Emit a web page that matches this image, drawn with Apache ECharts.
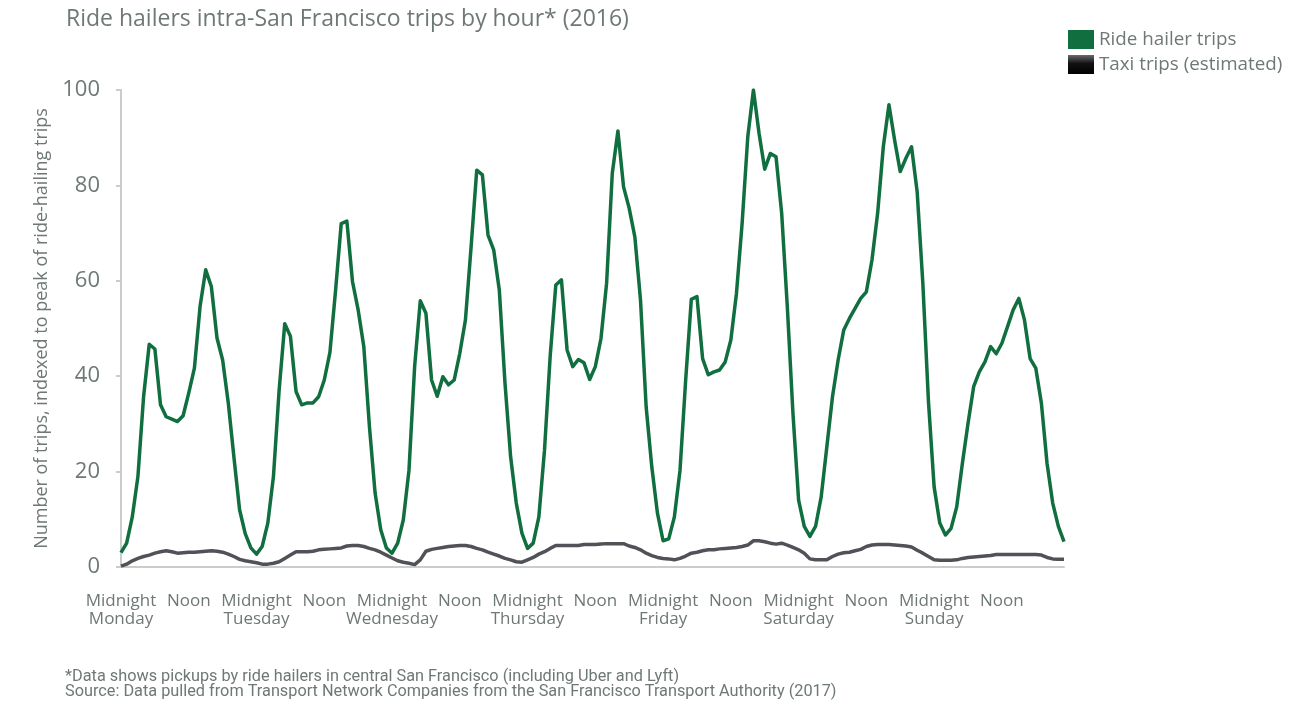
<!DOCTYPE html>
<html>
<head>
<meta charset="utf-8">
<script src="https://cdn.jsdelivr.net/npm/echarts@6/dist/echarts.min.js"></script>
<style>
html,body{margin:0;padding:0;background:#fff;}
#chart{width:1300px;height:723px;}
</style>
</head>
<body>
<div id="chart"></div>
<script>
// Hours 0..167 from Monday midnight
var hours = [];
for (var i = 0; i < 168; i++) hours.push(i);

var tickLabels = [
  'Midnight\nMonday', 'Noon', 'Midnight\nTuesday', 'Noon', 'Midnight\nWednesday', 'Noon',
  'Midnight\nThursday', 'Noon', 'Midnight\nFriday', 'Noon', 'Midnight\nSaturday', 'Noon',
  'Midnight\nSunday', 'Noon'
];

var rideHailer = [
  3, 5, 10.5, 19, 35.7, 46.7, 45.7, 34, 31.5, 31, 30.5, 31.7,
  36.5, 41.7, 54.6, 62.3, 58.8, 48, 43.4, 34.4, 23, 12, 7, 4,
  2.7, 4.3, 9.2, 19, 37, 51, 48.4, 36.8, 34, 34.4, 34.4, 35.7,
  39.2, 45, 58, 72, 72.5, 59.8, 53.9, 46.2, 29.4, 15.5, 7.8, 4,
  2.9, 5, 9.9, 20.3, 42, 55.8, 53.2, 39.2, 35.8, 39.9, 38.2, 39.2,
  44.8, 51.8, 67.1, 83.2, 82.2, 69.6, 66.5, 58, 38.6, 23.1, 13.4, 7.1,
  3.9, 5, 10.5, 24.5, 44.1, 59.1, 60.2, 45.5, 42, 43.5, 42.8, 39.3,
  42, 47.9, 59.5, 82.5, 91.4, 79.7, 75.2, 69.2, 56, 33.6, 21, 11.3,
  5.5, 5.9, 10.5, 20.3, 39.2, 56.1, 56.7, 43.7, 40.3, 40.9, 41.3, 43,
  47.6, 57.4, 72.1, 90.2, 100, 90.9, 83.4, 86.7, 86, 74.2, 54.6, 32.2,
  14, 8.5, 6.4, 8.5, 14.7, 25.2, 35.7, 43.4, 49.7, 52.1, 54.2, 56.3,
  57.7, 64.4, 74.2, 88.1, 96.9, 89.5, 82.9, 85.7, 88.1, 78.6, 59.5, 34.6,
  16.8, 9.2, 6.7, 8.1, 12.6, 21.7, 30.1, 37.8, 40.9, 43, 46.2, 44.7,
  46.9, 50.4, 53.9, 56.3, 51.8, 43.7, 41.7, 34.3, 21.7, 13.4, 8.5, 5.3
];

var taxi = [
  0.2, 0.6, 1.3, 1.8, 2.2, 2.5, 2.9, 3.2, 3.4, 3.2, 2.9, 3.0,
  3.1, 3.1, 3.2, 3.3, 3.4, 3.3, 3.1, 2.7, 2.2, 1.6, 1.3, 1.1,
  0.9, 0.6, 0.6, 0.8, 1.1, 1.8, 2.5, 3.2, 3.2, 3.2, 3.3, 3.6,
  3.7, 3.8, 3.9, 4.0, 4.4, 4.5, 4.5, 4.3, 3.9, 3.6, 3.1, 2.5,
  1.9, 1.3, 1.0, 0.8, 0.5, 1.5, 3.3, 3.7, 3.9, 4.1, 4.3, 4.4,
  4.5, 4.5, 4.3, 3.9, 3.6, 3.1, 2.7, 2.3, 1.8, 1.5, 1.1, 1.0,
  1.5, 2.0, 2.7, 3.2, 3.9, 4.5, 4.5, 4.5, 4.5, 4.5, 4.7, 4.7,
  4.7, 4.8, 4.9, 4.9, 4.9, 4.9, 4.4, 4.1, 3.6, 2.9, 2.4, 2.0,
  1.8, 1.7, 1.5, 1.8, 2.3, 2.9, 3.1, 3.4, 3.6, 3.6, 3.8, 3.9,
  4.0, 4.1, 4.3, 4.6, 5.5, 5.5, 5.3, 5.0, 4.8, 5.0, 4.6, 4.1,
  3.6, 2.9, 1.7, 1.5, 1.5, 1.5, 2.2, 2.7, 3.0, 3.1, 3.4, 3.7,
  4.3, 4.6, 4.7, 4.7, 4.7, 4.6, 4.5, 4.4, 4.2, 3.5, 2.9, 2.2,
  1.5, 1.4, 1.4, 1.4, 1.5, 1.8, 2.0, 2.1, 2.2, 2.3, 2.4, 2.6,
  2.6, 2.6, 2.6, 2.6, 2.6, 2.6, 2.6, 2.5, 2.0, 1.7, 1.6, 1.6
];

var yTicks = [0, 20, 40, 60, 80, 100];

var FONT = '"Open Sans"';
var TXT = '#6e7876';
var GREEN = '#106e3f';
var GREY = '#505257';
var AXIS = '#c9cecd';

var chart = echarts.init(document.getElementById('chart'));
chart.setOption({
  backgroundColor: '#ffffff',
  animation: false,
  textStyle: { fontFamily: FONT, color: TXT },
  title: {
    text: 'Ride hailers intra-San Francisco trips by hour* (2016)',
    left: 61, top: 3,
    textStyle: { fontFamily: FONT, fontSize: 23, fontWeight: 'normal', color: TXT }
  },
  legend: {
    orient: 'vertical',
    left: 1063, top: 25,
    itemWidth: 26, itemHeight: 19, itemGap: 6,
    icon: 'rect',
    textStyle: { fontFamily: FONT, fontSize: 18.8, color: TXT, lineHeight: 19 },
    data: [
      { name: 'Ride hailer trips', itemStyle: { color: GREEN } },
      { name: 'Taxi trips (estimated)', itemStyle: { color: {
        type: 'linear', x: 0, y: 0, x2: 0, y2: 1,
        colorStops: [{ offset: 0, color: '#6a6a6a' }, { offset: 0.45, color: '#111' }, { offset: 1, color: '#000' }]
      } } }
    ]
  },
  grid: { left: 121, right: 236, top: 90, bottom: 156, containLabel: false },
  xAxis: {
    type: 'category',
    data: hours,
    boundaryGap: false,
    axisLine: { show: true, lineStyle: { color: AXIS, width: 2 } },
    axisTick: { show: false },
    axisLabel: {
      interval: 11,
      margin: 25,
      fontFamily: FONT, fontSize: 17, color: TXT, lineHeight: 18,
      formatter: function (v, idx) { return tickLabels[Math.round(idx / 12)] || ''; }
    },
    splitLine: { show: false }
  },
  yAxis: {
    type: 'value',
    min: yTicks[0], max: yTicks[yTicks.length - 1], interval: 20,
    name: 'Number of trips, indexed to peak of ride-hailing trips',
    nameLocation: 'middle', nameGap: 61, nameRotate: 90,
    nameTextStyle: { fontFamily: FONT, fontSize: 18, color: TXT },
    axisLine: { show: true, lineStyle: { color: AXIS, width: 2 } },
    axisTick: { show: true, length: 5, lineStyle: { color: AXIS, width: 2 } },
    axisLabel: { fontFamily: FONT, fontSize: 22, color: TXT, margin: 21 },
    splitLine: { show: false }
  },
  series: [
    {
      name: 'Ride hailer trips', type: 'line', data: rideHailer,
      symbol: 'none', smooth: false,
      itemStyle: { color: GREEN },
      lineStyle: { color: GREEN, width: 3.5, join: 'round' },
      z: 3
    },
    {
      name: 'Taxi trips (estimated)', type: 'line', data: taxi,
      symbol: 'none', smooth: false,
      itemStyle: { color: GREY },
      lineStyle: { color: GREY, width: 3.5, join: 'round' },
      z: 2
    }
  ],
  graphic: [
    { type: 'text', left: 65, top: 669, style: { text: '*Data shows pickups by ride hailers in central San Francisco (including Uber and Lyft)', font: '16.3px Roboto', fill: TXT } },
    { type: 'text', left: 65, top: 684, style: { text: 'Source: Data pulled from Transport Network Companies from the San Francisco Transport Authority (2017)', font: '16.3px Roboto', fill: TXT } }
  ]
});
</script>
</body>
</html>
